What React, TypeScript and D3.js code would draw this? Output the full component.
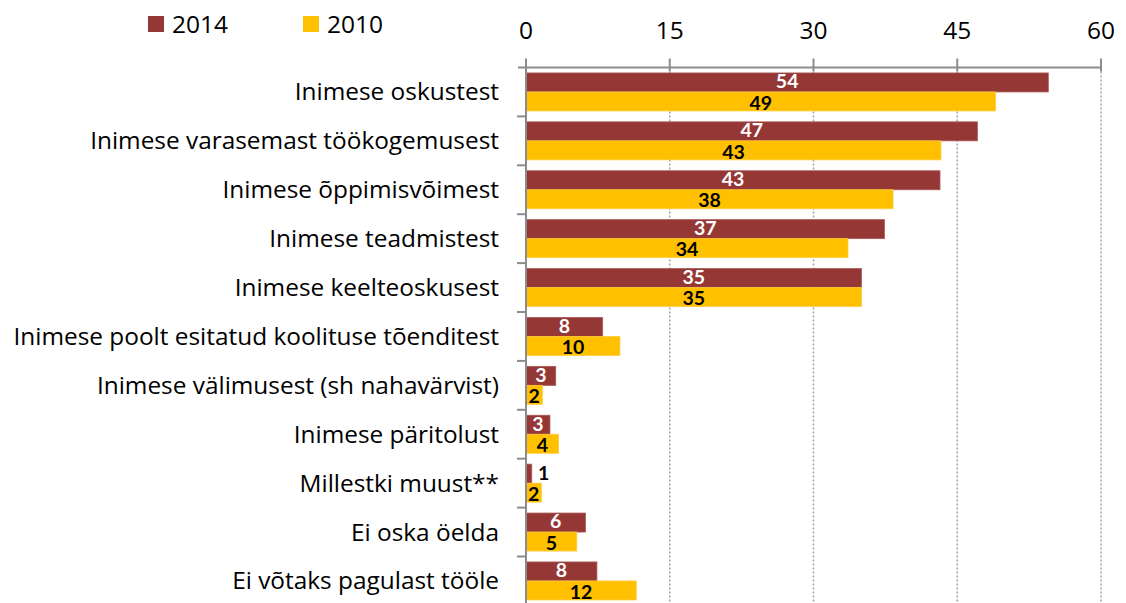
import React from "react";
import * as d3 from "d3";

const categories = [
  "Inimese oskustest",
  "Inimese varasemast töökogemusest",
  "Inimese õppimisvõimest",
  "Inimese teadmistest",
  "Inimese keelteoskusest",
  "Inimese poolt esitatud koolituse tõenditest",
  "Inimese välimusest (sh nahavärvist)",
  "Inimese päritolust",
  "Millestki muust**",
  "Ei oska öelda",
  "Ei võtaks pagulast tööle",
];
const values2014 = [54.5, 47.1, 43.2, 37.4, 35.0, 8.0, 3.1, 2.5, 0.6, 6.2, 7.4];
const values2010 = [49.0, 43.3, 38.3, 33.6, 35.0, 9.8, 1.7, 3.4, 1.6, 5.3, 11.5];
const labels2014 = ["54", "47", "43", "37", "35", "8", "3", "3", "1", "6", "8"];
const labels2010 = ["49", "43", "38", "34", "35", "10", "2", "4", "2", "5", "12"];
const xTicks = [0, 15, 30, 45, 60];
const seriesNames = ["2014", "2010"];

const RED = "#953735";
const YELLOW = "#FFC000";
const GREY = "#8c8c8c";
const FONT = "'Open Sans', Lato, sans-serif";
const BOLD = "Lato, 'Open Sans', sans-serif";

export default function App() {
  const W = 1126, H = 603;
  const x = d3.scaleLinear().domain([0, 60]).range([526, 1101]);
  const y = d3.scaleBand<string>().domain(categories).range([67.5, 67.5 + 11 * 48.9]).paddingInner(0).paddingOuter(0);
  const barH = 19;
  const axisY = 67.5;

  return (
    <svg width={W} height={H} style={{ position: "absolute", left: 0, top: 0, background: "#fff" }}>
      {xTicks.filter((t) => t > 0).map((t) => (
        <line key={"g" + t} x1={x(t)} x2={x(t)} y1={axisY} y2={H} stroke="#a0a0a0" strokeWidth={1.5} strokeDasharray="2,2" />
      ))}
      {categories.map((c, i) => {
        const cy = (y(c) as number) + y.bandwidth() / 2;
        const w14 = x(values2014[i]) - x(0);
        const w10 = x(values2010[i]) - x(0);
        const inside14 = w14 > 15;
        return (
          <g key={c}>
            <rect x={x(0)} y={cy - barH} width={w14} height={barH} fill={RED} stroke="#a85a58" strokeWidth={0.8} />
            <rect x={x(0)} y={cy} width={w10} height={barH} fill={YELLOW} stroke="#ffcb3a" strokeWidth={0.8} />
            <text
              x={inside14 ? x(0) + w14 / 2 : x(values2014[i]) + 12}
              y={cy - barH / 2}
              dy="0.3em"
              textAnchor="middle"
              fontFamily={BOLD}
              fontWeight="bold"
              fontSize={19.5}
              fill={inside14 ? "#fff" : "#000"}
            >
              {labels2014[i]}
            </text>
            <text
              x={x(0) + w10 / 2}
              y={cy + barH / 2}
              dy="0.42em"
              textAnchor="middle"
              fontFamily={BOLD}
              fontWeight="bold"
              fontSize={19.5}
              fill="#000"
            >
              {labels2010[i]}
            </text>
            <text x={499} y={cy} dy="0.35em" textAnchor="end" fontFamily={FONT} fontSize={24.4} fill="#000">
              {c}
            </text>
          </g>
        );
      })}
      <line x1={x(0)} x2={x(0)} y1={axisY} y2={H} stroke={GREY} strokeWidth={2} />
      {d3.range(1, 12).map((k) => {
        const yy = 67.5 + k * 48.9;
        return <line key={"yt" + k} x1={x(0) - 9} x2={x(0)} y1={yy} y2={yy} stroke={GREY} strokeWidth={2} />;
      })}
      <line x1={x(0) - 8} x2={x(60)} y1={axisY} y2={axisY} stroke={GREY} strokeWidth={2} />
      {xTicks.map((t) => (
        <g key={"xt" + t}>
          <line x1={x(t)} x2={x(t)} y1={axisY - 9} y2={axisY + 4} stroke={GREY} strokeWidth={2} />
          <text x={x(t)} y={39} textAnchor="middle" fontFamily={FONT} fontSize={24.5} fill="#000">
            {t}
          </text>
        </g>
      ))}
      {seriesNames.map((s, i) => (
        <g key={s} transform={`translate(${148 + i * 155},0)`}>
          <rect x={0} y={16} width={16} height={16} fill={i === 0 ? RED : YELLOW} />
          <text x={24} y={33} fontFamily={FONT} fontSize={24.5} fill="#000">
            {s}
          </text>
        </g>
      ))}
    </svg>
  );
}
